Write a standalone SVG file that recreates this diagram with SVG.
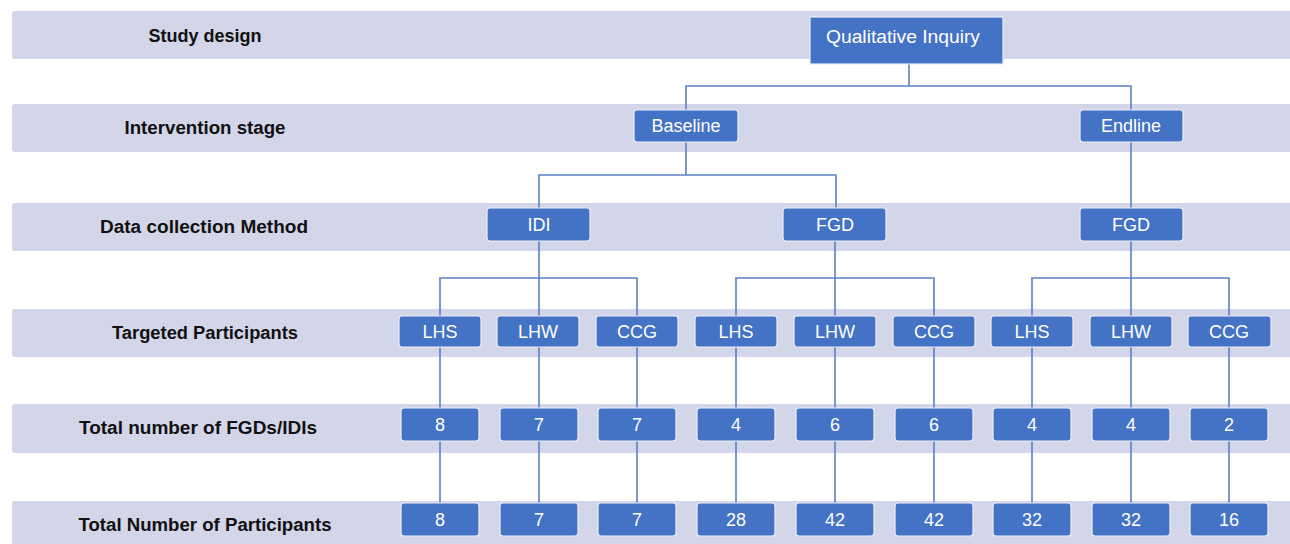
<svg xmlns="http://www.w3.org/2000/svg" width="1290" height="544" viewBox="0 0 1290 544">
<style>
.band{fill:#d3d5e8}
.lbl{font-family:"Liberation Sans",Arial,sans-serif;font-weight:bold;font-size:18px;fill:#111;text-anchor:middle}
.box{fill:#4472c4;stroke:#e9edf8;stroke-width:1.2}
.t{font-family:"Liberation Sans",Arial,sans-serif;font-size:18px;fill:#fff;text-anchor:middle}
.c{fill:none;stroke:#5b80c6;stroke-width:1.6}
</style>
<rect width="1290" height="544" fill="#fff"/>
<g id="bands">
<rect class="band" x="12" y="11" width="1280" height="48" rx="3"/>
<rect class="band" x="12" y="104" width="1280" height="48" rx="3"/>
<rect class="band" x="12" y="203" width="1280" height="48" rx="3"/>
<rect class="band" x="12" y="309" width="1280" height="48" rx="3"/>
<rect class="band" x="12" y="404" width="1280" height="49" rx="3"/>
<rect class="band" x="12" y="501" width="1280" height="50" rx="3"/>
<text class="lbl" x="205" y="42" textLength="113" lengthAdjust="spacingAndGlyphs">Study design</text>
<text class="lbl" x="205" y="134" textLength="161" lengthAdjust="spacingAndGlyphs">Intervention stage</text>
<text class="lbl" x="204" y="233" textLength="208" lengthAdjust="spacingAndGlyphs">Data collection Method</text>
<text class="lbl" x="205" y="339" textLength="186" lengthAdjust="spacingAndGlyphs">Targeted Participants</text>
<text class="lbl" x="198" y="434" textLength="238" lengthAdjust="spacingAndGlyphs">Total number of FGDs/IDIs</text>
<text class="lbl" x="205" y="531" textLength="253" lengthAdjust="spacingAndGlyphs">Total Number of Participants</text>
</g>
<g id="connectors">
<path class="c" d="M909 64V86M686 110V86H1131V110"/>
<path class="c" d="M686 142V175M539 208V175H836V208"/>
<path class="c" d="M1131 142V208"/>
<path class="c" d="M539 241V316M440 316V278H637V316"/>
<path class="c" d="M835 241V316M736 316V278H934V316"/>
<path class="c" d="M1131 241V316M1032 316V278H1229V316"/>
<path class="c" d="M440 347V503M539 347V503M637 347V503M736 347V503M835 347V503M934 347V503M1032 347V503M1131 347V503M1229 347V503"/>
</g>
<g id="n-qi"><rect class="box" x="810" y="17" width="193" height="47"/><text class="t" x="903" y="43" textLength="154" lengthAdjust="spacingAndGlyphs">Qualitative Inquiry</text></g>
<g id="n-baseline"><rect class="box" x="634" y="110" width="104" height="32" rx="3"/><text class="t" x="686" y="132">Baseline</text></g>
<g id="n-endline"><rect class="box" x="1080" y="110" width="103" height="32" rx="3"/><text class="t" x="1131" y="132">Endline</text></g>
<g id="n-idi"><rect class="box" x="487" y="208" width="103" height="33" rx="3"/><text class="t" x="539" y="231">IDI</text></g>
<g id="n-fgd1"><rect class="box" x="783" y="208" width="103" height="33" rx="3"/><text class="t" x="835" y="231">FGD</text></g>
<g id="n-fgd2"><rect class="box" x="1080" y="208" width="103" height="33" rx="3"/><text class="t" x="1131" y="231">FGD</text></g>
<g id="n-p1"><rect class="box" x="399" y="316" width="82" height="31" rx="3"/><text class="t" x="440" y="338">LHS</text></g>
<g id="n-p2"><rect class="box" x="497" y="316" width="82" height="31" rx="3"/><text class="t" x="538" y="338">LHW</text></g>
<g id="n-p3"><rect class="box" x="596" y="316" width="82" height="31" rx="3"/><text class="t" x="637" y="338">CCG</text></g>
<g id="n-p4"><rect class="box" x="695" y="316" width="82" height="31" rx="3"/><text class="t" x="736" y="338">LHS</text></g>
<g id="n-p5"><rect class="box" x="794" y="316" width="82" height="31" rx="3"/><text class="t" x="835" y="338">LHW</text></g>
<g id="n-p6"><rect class="box" x="893" y="316" width="82" height="31" rx="3"/><text class="t" x="934" y="338">CCG</text></g>
<g id="n-p7"><rect class="box" x="991" y="316" width="82" height="31" rx="3"/><text class="t" x="1032" y="338">LHS</text></g>
<g id="n-p8"><rect class="box" x="1090" y="316" width="82" height="31" rx="3"/><text class="t" x="1131" y="338">LHW</text></g>
<g id="n-p9"><rect class="box" x="1188" y="316" width="83" height="31" rx="3"/><text class="t" x="1229" y="338">CCG</text></g>
<g id="n-f1"><rect class="box" x="401" y="408" width="78" height="33" rx="3"/><text class="t" x="440" y="431">8</text></g>
<g id="n-f2"><rect class="box" x="500" y="408" width="78" height="33" rx="3"/><text class="t" x="539" y="431">7</text></g>
<g id="n-f3"><rect class="box" x="598" y="408" width="78" height="33" rx="3"/><text class="t" x="637" y="431">7</text></g>
<g id="n-f4"><rect class="box" x="697" y="408" width="78" height="33" rx="3"/><text class="t" x="736" y="431">4</text></g>
<g id="n-f5"><rect class="box" x="796" y="408" width="78" height="33" rx="3"/><text class="t" x="835" y="431">6</text></g>
<g id="n-f6"><rect class="box" x="895" y="408" width="78" height="33" rx="3"/><text class="t" x="934" y="431">6</text></g>
<g id="n-f7"><rect class="box" x="993" y="408" width="78" height="33" rx="3"/><text class="t" x="1032" y="431">4</text></g>
<g id="n-f8"><rect class="box" x="1092" y="408" width="78" height="33" rx="3"/><text class="t" x="1131" y="431">4</text></g>
<g id="n-f9"><rect class="box" x="1190" y="408" width="78" height="33" rx="3"/><text class="t" x="1229" y="431">2</text></g>
<g id="n-t1"><rect class="box" x="401" y="503" width="78" height="33" rx="3"/><text class="t" x="440" y="526">8</text></g>
<g id="n-t2"><rect class="box" x="500" y="503" width="78" height="33" rx="3"/><text class="t" x="539" y="526">7</text></g>
<g id="n-t3"><rect class="box" x="598" y="503" width="78" height="33" rx="3"/><text class="t" x="637" y="526">7</text></g>
<g id="n-t4"><rect class="box" x="697" y="503" width="78" height="33" rx="3"/><text class="t" x="736" y="526">28</text></g>
<g id="n-t5"><rect class="box" x="796" y="503" width="78" height="33" rx="3"/><text class="t" x="835" y="526">42</text></g>
<g id="n-t6"><rect class="box" x="895" y="503" width="78" height="33" rx="3"/><text class="t" x="934" y="526">42</text></g>
<g id="n-t7"><rect class="box" x="993" y="503" width="78" height="33" rx="3"/><text class="t" x="1032" y="526">32</text></g>
<g id="n-t8"><rect class="box" x="1092" y="503" width="78" height="33" rx="3"/><text class="t" x="1131" y="526">32</text></g>
<g id="n-t9"><rect class="box" x="1190" y="503" width="78" height="33" rx="3"/><text class="t" x="1229" y="526">16</text></g>
</svg>
